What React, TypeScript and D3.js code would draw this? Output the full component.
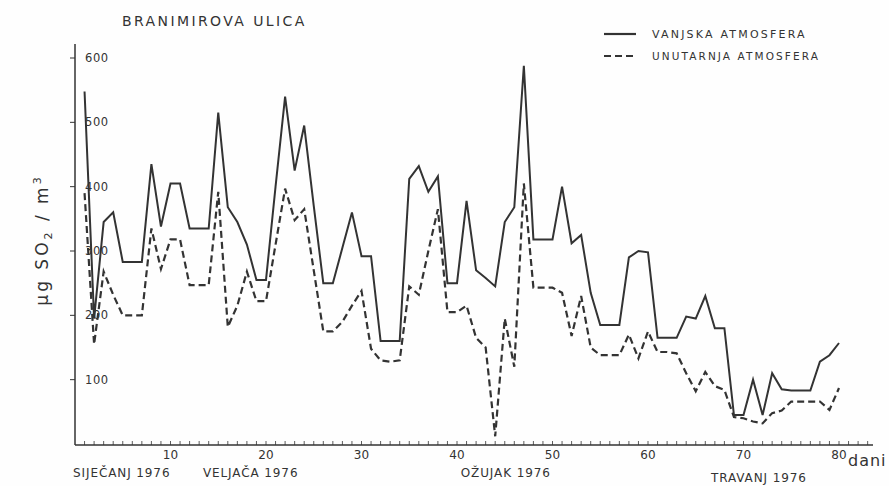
import React from "react";
import * as d3 from "d3";

const days: number[] = d3.range(1, 81);
const outdoor: number[] = [
  548, 195, 345, 360, 283, 283, 283, 435, 338, 405,
  405, 335, 335, 335, 515, 368, 345, 310, 255, 255,
  400, 540, 425, 495, 370, 250, 250, 305, 360, 292,
  292, 160, 160, 160, 412, 432, 392, 416, 250, 250,
  378, 270, 258, 245, 345, 368, 588, 318, 318, 318,
  400, 312, 325, 235, 185, 185, 185, 290, 300, 298,
  165, 165, 165, 198, 195, 230, 180, 180, 45, 45,
  100, 45, 110, 85, 83, 83, 83, 128, 138, 157,
];
const indoor: number[] = [
  390, 155, 268, 232, 200, 200, 200, 335, 272, 318,
  318, 247, 247, 247, 392, 182, 215, 268, 222, 222,
  310, 397, 348, 365, 270, 175, 175, 190, 215, 238,
  148, 130, 128, 130, 245, 232, 300, 365, 205, 205,
  215, 165, 150, 12, 195, 120, 405, 243, 243, 243,
  235, 168, 230, 150, 138, 138, 138, 170, 133, 175,
  143, 143, 141, 110, 82, 112, 90, 84, 42, 40,
  35, 32, 48, 52, 66, 66, 66, 66, 53, 87,
];
const yTicks: number[] = [100, 200, 300, 400, 500, 600];
const xTicks: number[] = [10, 20, 30, 40, 50, 60, 70, 80];
const months = [
  { label: "SIJEČANJ 1976", day: 0, dy: 0 },
  { label: "VELJAČA 1976", day: 13.6, dy: 0 },
  { label: "OŽUJAK 1976", day: 40.6, dy: 0 },
  { label: "TRAVANJ 1976", day: 66.8, dy: 5 },
];
const title = "BRANIMIROVA ULICA";
const legendOutdoor = "VANJSKA ATMOSFERA";
const legendIndoor = "UNUTARNJA ATMOSFERA";

const W = 889;
const H = 486;
const INK = "#333333";
const FONT = "'DejaVu Sans', 'Liberation Sans', sans-serif";

export default function App() {
  const x = d3.scaleLinear().domain([0, 80]).range([75, 839]);
  const y = d3.scaleLinear().domain([0, 600]).range([444, 58]);
  const line = d3
    .line<number>()
    .x((_, i) => x(days[i]))
    .y((v) => y(v));
  const minor = d3.range(1, 84);

  return (
    <svg
      width={W}
      height={H}
      style={{ position: "absolute", left: 0, top: 0, background: "#fefefe" }}
      fontFamily={FONT}
    >
      <rect x={0} y={0} width={W} height={H} fill="#fefefe" />
      {/* title */}
      <text x={122} y={26} fontSize={14} letterSpacing={2.4} fill={INK}>
        {title}
      </text>
      {/* legend */}
      <line x1={604} x2={636} y1={34} y2={34} stroke={INK} strokeWidth={2.2} />
      <text x={652} y={38} fontSize={11} letterSpacing={2.2} fill={INK}>
        {legendOutdoor}
      </text>
      <line x1={604} x2={636} y1={56} y2={56} stroke={INK} strokeWidth={2.2} strokeDasharray="7,4" />
      <text x={652} y={60} fontSize={10.5} letterSpacing={2.1} fill={INK}>
        {legendIndoor}
      </text>

      {/* axes */}
      <line x1={75} x2={75} y1={44} y2={445} stroke={INK} strokeWidth={1.5} />
      <line x1={75} x2={873} y1={445} y2={445} stroke={INK} strokeWidth={1.5} />
      {yTicks.map((t) => (
        <g key={t}>
          <line x1={70} x2={75} y1={y(t)} y2={y(t)} stroke={INK} strokeWidth={1} />
          <text x={85} y={y(t) + 4} fontSize={11.5} letterSpacing={0.6} fill={INK}>
            {t}
          </text>
        </g>
      ))}
      {minor.map((d) => (
        <line key={d} x1={x(d)} x2={x(d)} y1={445} y2={441} stroke={INK} strokeWidth={0.8} />
      ))}
      {xTicks.map((t) => (
        <text key={t} x={x(t)} y={459} fontSize={12} textAnchor="middle" fill={INK}>
          {t}
        </text>
      ))}
      <text x={848} y={466} fontSize={16} letterSpacing={1} fill={INK}>
        dani
      </text>
      {months.map((m) => (
        <text key={m.label} x={x(m.day) - 2} y={477 + m.dy} fontSize={12} letterSpacing={0.9} fill={INK}>
          {m.label}
        </text>
      ))}

      {/* y label */}
      <text
        transform="translate(48,240) rotate(-90)"
        textAnchor="middle"
        fontSize={17}
        letterSpacing={3}
        fill={INK}
      >
        µg SO
        <tspan fontSize={11} dy={4}>2</tspan>
        <tspan dy={-4}> / m</tspan>
        <tspan fontSize={11} dy={-7}>3</tspan>
      </text>

      {/* series */}
      <path d={line(outdoor) || ""} fill="none" stroke={INK} strokeWidth={2} strokeLinejoin="miter" />
      <path d={line(indoor) || ""} fill="none" stroke={INK} strokeWidth={2.2} strokeDasharray="7,4" />
    </svg>
  );
}
